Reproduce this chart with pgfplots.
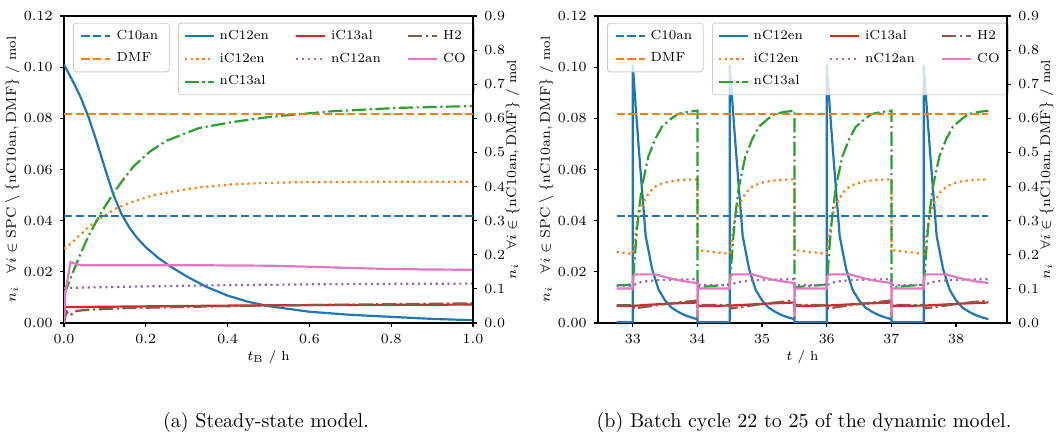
\documentclass[border=0pt]{standalone}
\usepackage{amssymb}
\usepackage{pgfplots}
\pgfplotsset{compat=1.18}

\definecolor{tabblue}{HTML}{1F77B4}
\definecolor{taborange}{HTML}{FF7F0E}
\definecolor{tabgreen}{HTML}{2CA02C}
\definecolor{tabred}{HTML}{D62728}
\definecolor{tabpurple}{HTML}{9467BD}
\definecolor{tabbrown}{HTML}{8C564B}
\definecolor{tabpink}{HTML}{E377C2}

\newcommand{\sm}{\fontsize{6.6}{8}\selectfont}

\tikzset{
  lC10an/.style={tabblue, line width=1.1pt, dash pattern=on 4.1pt off 1.8pt},
  lDMF/.style={taborange, line width=1.1pt, dash pattern=on 4.1pt off 1.8pt},
  lnC12en/.style={tabblue, line width=1.1pt},
  liC12en/.style={taborange, line width=1.1pt, dash pattern=on 1.1pt off 1.85pt},
  lnC13al/.style={tabgreen, line width=1.1pt, dash pattern=on 7.1pt off 1.8pt on 1.1pt off 1.8pt},
  liC13al/.style={tabred, line width=1.1pt},
  lnC12an/.style={tabpurple, line width=1.1pt, dash pattern=on 1.1pt off 1.85pt},
  lH2/.style={tabbrown, line width=1.1pt, dash pattern=on 7.1pt off 1.8pt on 1.1pt off 1.8pt},
  lCO/.style={tabpink, line width=1.1pt},
}

\pgfplotsset{
  base/.style={
    scale only axis, width=204.5pt, height=153.5pt,
    tick align=outside, major tick length=2.2pt,
    tick label style={font=\sm}, label style={font=\sm},
    xlabel style={yshift=3.5pt},
    axis line style={line width=0.6pt},
    every tick/.style={black, line width=0.6pt},
    scaled ticks=false,
    legend cell align=left,
    legend image code/.code={\draw[##1] (0pt,0pt) -- (14.5pt,0pt);},
    legend style={font=\sm, draw=black!20, rounded corners=1.5pt,
      fill=white, fill opacity=0.8, text opacity=1, draw opacity=1,
      inner xsep=2.5pt, inner ysep=1.5pt, row sep=1.2pt,
      /tikz/every odd column/.append style={column sep=0.5pt},
      /tikz/every even column/.append style={column sep=11pt}},
  },
  leftscale/.style={
    base, ymin=0, ymax=0.12,
    ytick={0,0.02,0.04,0.06,0.08,0.1,0.12},
    yticklabel style={/pgf/number format/.cd, fixed, fixed zerofill, precision=2},
    xtick pos=left, ytick pos=left,
    ylabel={$n_i \quad \forall i \in \mathrm{SPC} \setminus \{\mathrm{nC10an}, \mathrm{DMF}\}$ / mol},
    ylabel style={at={(axis description cs:-0.126,0.5)}, anchor=center},
    legend columns=3,
    legend style={at={(0.279,0.978)}, anchor=north west},
  },
  rightscale/.style={
    base, ymin=0, ymax=0.9,
    ytick={0,0.1,0.2,0.3,0.4,0.5,0.6,0.7,0.8,0.9},
    yticklabel style={/pgf/number format/.cd, fixed, fixed zerofill, precision=1},
    axis y line*=right, axis x line=none,
    ylabel={$n_i \quad \forall i \in \{\mathrm{nC10an}, \mathrm{DMF}\}$ / mol},
    ylabel style={at={(axis description cs:1.097,0.5)}, anchor=center},
    legend style={at={(0.022,0.978)}, anchor=north west, inner xsep=3.5pt},
  },
}

\begin{document}
\begin{tikzpicture}
\useasboundingbox (0,0) rectangle (528.5pt,216.5pt);

%% (a) steady-state model, left scale
\begin{axis}[leftscale, at={(32pt,55pt)}, anchor=south west,
  xmin=0, xmax=1, xtick={0,0.2,0.4,0.6,0.8,1},
  xticklabel style={/pgf/number format/.cd, fixed, fixed zerofill, precision=1},
  xlabel={$t_\mathrm{B}$ / h}]
\addplot[lnC12en, forget plot] coordinates {(0,0.101)(0.02,0.095)(0.04,0.0885)(0.06,0.0805)(0.08,0.0708)(0.10,0.0605)(0.12,0.0505)(0.14,0.0428)(0.16,0.0372)(0.18,0.0330)(0.2,0.0296)(0.23,0.0255)(0.26,0.0221)(0.3,0.0182)(0.35,0.0140)(0.4,0.0107)(0.45,0.0083)(0.5,0.0066)(0.6,0.0044)(0.7,0.0032)(0.8,0.0024)(0.9,0.0016)(1.0,0.0011)};
\addplot[liC12en, forget plot] coordinates {(0,0.029)(0.02,0.0315)(0.04,0.0345)(0.06,0.0375)(0.08,0.040)(0.1,0.042)(0.13,0.045)(0.17,0.0475)(0.22,0.050)(0.27,0.0515)(0.33,0.053)(0.41,0.0542)(0.5,0.0548)(0.6,0.0551)(0.8,0.0552)(1.0,0.0552)};
\addplot[lnC13al, forget plot] coordinates {(0,0.011)(0.02,0.019)(0.04,0.027)(0.06,0.034)(0.08,0.040)(0.1,0.0455)(0.12,0.0505)(0.14,0.055)(0.17,0.0612)(0.21,0.067)(0.25,0.0712)(0.33,0.0762)(0.41,0.0785)(0.5,0.0805)(0.58,0.0817)(0.66,0.0828)(0.82,0.0841)(1.0,0.0848)};
\addplot[liC13al, forget plot] coordinates {(0,0.0)(0.002,0.0062)(0.2,0.0065)(0.4,0.0068)(0.6,0.0070)(0.8,0.0071)(1.0,0.0072)};
\addplot[lnC12an, forget plot] coordinates {(0,0.0137)(0.2,0.0143)(0.4,0.0148)(0.6,0.0151)(0.8,0.0153)(1.0,0.0154)};
\addplot[lH2, forget plot] coordinates {(0,0.0)(0.006,0.0045)(0.015,0.003)(0.03,0.0047)(0.06,0.0052)(0.15,0.0058)(0.3,0.0063)(0.5,0.0068)(0.7,0.0072)(1.0,0.0077)};
\addplot[lCO, forget plot] coordinates {(0,0.0)(0.003,0.012)(0.016,0.0238)(0.04,0.0226)(0.3,0.0226)(0.5,0.0224)(0.6,0.022)(0.7,0.0215)(0.8,0.0211)(0.9,0.0209)(1.0,0.0208)};
\addlegendimage{lnC12en}\addlegendentry{nC12en}
\addlegendimage{liC13al}\addlegendentry{iC13al}
\addlegendimage{lH2}\addlegendentry{H2}
\addlegendimage{liC12en}\addlegendentry{iC12en}
\addlegendimage{lnC12an}\addlegendentry{nC12an}
\addlegendimage{lCO}\addlegendentry{CO}
\addlegendimage{lnC13al}\addlegendentry{nC13al}
\end{axis}

%% (a) right scale
\begin{axis}[rightscale, at={(32pt,55pt)}, anchor=south west, xmin=0, xmax=1]
\addplot[lC10an] coordinates {(0,0.314)(1,0.314)};
\addlegendentry{C10an}
\addplot[lDMF] coordinates {(0,0.612)(1,0.612)};
\addlegendentry{DMF}
\end{axis}

%% (b) dynamic model, left scale
\begin{axis}[leftscale, at={(299pt,55pt)}, anchor=south west,
  xmin=32.4625, xmax=38.7875, xtick={33,34,35,36,37,38},
  xlabel={$t$ / h}]
\addplot[lnC12en, forget plot] coordinates {
(32.75,0.0003)(33,0.0003)(33,0.101)(33.05,0.083)(33.1,0.066)(33.15,0.05)(33.2,0.034)(33.3,0.021)(33.4,0.013)(33.5,0.0088)(33.6,0.006)(33.7,0.0044)(33.8,0.0031)(33.9,0.0022)(34,0.0015)(34,0.0003)(34.5,0.0003)
(34.5,0.101)(34.55,0.083)(34.6,0.066)(34.65,0.05)(34.7,0.034)(34.8,0.021)(34.9,0.013)(35,0.0088)(35.1,0.006)(35.2,0.0044)(35.3,0.0031)(35.4,0.0022)(35.5,0.0015)(35.5,0.0003)(36,0.0003)
(36,0.101)(36.05,0.083)(36.1,0.066)(36.15,0.05)(36.2,0.034)(36.3,0.021)(36.4,0.013)(36.5,0.0088)(36.6,0.006)(36.7,0.0044)(36.8,0.0031)(36.9,0.0022)(37,0.0015)(37,0.0003)(37.5,0.0003)
(37.5,0.101)(37.55,0.083)(37.6,0.066)(37.65,0.05)(37.7,0.034)(37.8,0.021)(37.9,0.013)(38,0.0088)(38.1,0.006)(38.2,0.0044)(38.3,0.0031)(38.4,0.0022)(38.5,0.0015)};
\addplot[liC12en, forget plot] coordinates {
(32.75,0.0278)(33,0.027)(33.03,0.032)(33.06,0.038)(33.1,0.043)(33.17,0.0474)(33.25,0.051)(33.35,0.0533)(33.45,0.0545)(33.55,0.0552)(33.76,0.056)(34,0.0561)(34,0.0285)(34.5,0.027)
(34.53,0.032)(34.56,0.038)(34.6,0.043)(34.67,0.0474)(34.75,0.051)(34.85,0.0533)(34.95,0.0545)(35.05,0.0552)(35.26,0.056)(35.5,0.0561)(35.5,0.0285)(36,0.027)
(36.03,0.032)(36.06,0.038)(36.1,0.043)(36.17,0.0474)(36.25,0.051)(36.35,0.0533)(36.45,0.0545)(36.55,0.0552)(36.76,0.056)(37,0.0561)(37,0.0285)(37.5,0.027)
(37.53,0.032)(37.56,0.038)(37.6,0.043)(37.67,0.0474)(37.75,0.051)(37.85,0.0533)(37.95,0.0545)(38.05,0.0552)(38.26,0.056)(38.5,0.0561)};
\addplot[lnC13al, forget plot] coordinates {
(32.75,0.0147)(33,0.015)(33.03,0.025)(33.06,0.035)(33.09,0.043)(33.14,0.053)(33.24,0.065)(33.35,0.072)(33.45,0.0767)(33.6,0.080)(33.7,0.0817)(33.85,0.0825)(34,0.083)(34,0.014)(34.5,0.015)
(34.53,0.025)(34.56,0.035)(34.59,0.043)(34.64,0.053)(34.74,0.065)(34.85,0.072)(34.95,0.0767)(35.1,0.080)(35.2,0.0817)(35.35,0.0825)(35.5,0.083)(35.5,0.014)(36,0.015)
(36.03,0.025)(36.06,0.035)(36.09,0.043)(36.14,0.053)(36.24,0.065)(36.35,0.072)(36.45,0.0767)(36.6,0.080)(36.7,0.0817)(36.85,0.0825)(37,0.083)(37,0.014)(37.5,0.015)
(37.53,0.025)(37.56,0.035)(37.59,0.043)(37.64,0.053)(37.74,0.065)(37.85,0.072)(37.95,0.0767)(38.1,0.080)(38.2,0.0817)(38.35,0.0825)(38.5,0.083)};
\addplot[liC13al, forget plot] coordinates {
(32.75,0.0066)(33,0.0067)(33.3,0.0072)(33.6,0.0076)(34,0.008)(34,0.0067)(34.5,0.0068)(34.8,0.0072)(35.1,0.0076)(35.5,0.008)(35.5,0.0067)(36,0.0068)(36.3,0.0072)(36.6,0.0076)(37,0.008)(37,0.0067)(37.5,0.0068)(37.8,0.0072)(38.1,0.0076)(38.5,0.008)};
\addplot[lnC12an, forget plot] coordinates {
(32.75,0.0145)(33,0.0146)(33.05,0.0153)(33.1,0.0158)(33.2,0.0163)(33.4,0.0168)(33.7,0.017)(34,0.0171)(34,0.0148)(34.5,0.0148)
(34.55,0.0153)(34.6,0.0158)(34.7,0.0163)(34.9,0.0168)(35.2,0.017)(35.5,0.0171)(35.5,0.0148)(36,0.0148)
(36.05,0.0153)(36.1,0.0158)(36.2,0.0163)(36.4,0.0168)(36.7,0.017)(37,0.0171)(37,0.0148)(37.5,0.0148)
(37.55,0.0153)(37.6,0.0158)(37.7,0.0163)(37.9,0.0168)(38.2,0.017)(38.5,0.0171)};
\addplot[lH2, forget plot] coordinates {
(32.75,0.0069)(33,0.0069)(33.02,0.0057)(33.1,0.006)(33.3,0.0067)(33.5,0.0074)(33.7,0.008)(34,0.0088)(34,0.002)(34.005,0.007)(34.5,0.007)
(34.52,0.0057)(34.6,0.006)(34.8,0.0067)(35,0.0074)(35.2,0.008)(35.5,0.0088)(35.5,0.002)(35.505,0.007)(36,0.007)
(36.02,0.0057)(36.1,0.006)(36.3,0.0067)(36.5,0.0074)(36.7,0.008)(37,0.0088)(37,0.002)(37.005,0.007)(37.5,0.007)
(37.52,0.0057)(37.6,0.006)(37.8,0.0067)(38,0.0074)(38.2,0.008)(38.5,0.0088)};
\addplot[lCO, forget plot] coordinates {
(32.75,0.0135)(33,0.0135)(33.01,0.0185)(33.05,0.019)(33.35,0.019)(33.45,0.0183)(33.55,0.0176)(33.65,0.017)(33.8,0.0163)(34,0.0156)(34,0.0025)(34.005,0.0135)(34.5,0.0135)
(34.51,0.0185)(34.55,0.019)(34.85,0.019)(34.95,0.0183)(35.05,0.0176)(35.15,0.017)(35.3,0.0163)(35.5,0.0156)(35.5,0.0025)(35.505,0.0135)(36,0.0135)
(36.01,0.0185)(36.05,0.019)(36.35,0.019)(36.45,0.0183)(36.55,0.0176)(36.65,0.017)(36.8,0.0163)(37,0.0156)(37,0.0025)(37.005,0.0135)(37.5,0.0135)
(37.51,0.0185)(37.55,0.019)(37.85,0.019)(37.95,0.0183)(38.05,0.0176)(38.15,0.017)(38.3,0.0163)(38.5,0.0156)};
\addlegendimage{lnC12en}\addlegendentry{nC12en}
\addlegendimage{liC13al}\addlegendentry{iC13al}
\addlegendimage{lH2}\addlegendentry{H2}
\addlegendimage{liC12en}\addlegendentry{iC12en}
\addlegendimage{lnC12an}\addlegendentry{nC12an}
\addlegendimage{lCO}\addlegendentry{CO}
\addlegendimage{lnC13al}\addlegendentry{nC13al}
\end{axis}

%% (b) right scale
\begin{axis}[rightscale, at={(299pt,55pt)}, anchor=south west, xmin=32.4625, xmax=38.7875]
\addplot[lC10an] coordinates {(32.75,0.314)(38.5,0.314)};
\addlegendentry{C10an}
\addplot[lDMF] coordinates {(32.75,0.612)(38.5,0.612)};
\addlegendentry{DMF}
\end{axis}

\node[font=\fontsize{10}{12}\selectfont, anchor=base] at (133pt,2.8pt) {(a) Steady-state model.};
\node[font=\fontsize{10}{12}\selectfont, anchor=base] at (402pt,2.8pt) {(b) Batch cycle 22 to 25 of the dynamic model.};
\end{tikzpicture}
\end{document}
